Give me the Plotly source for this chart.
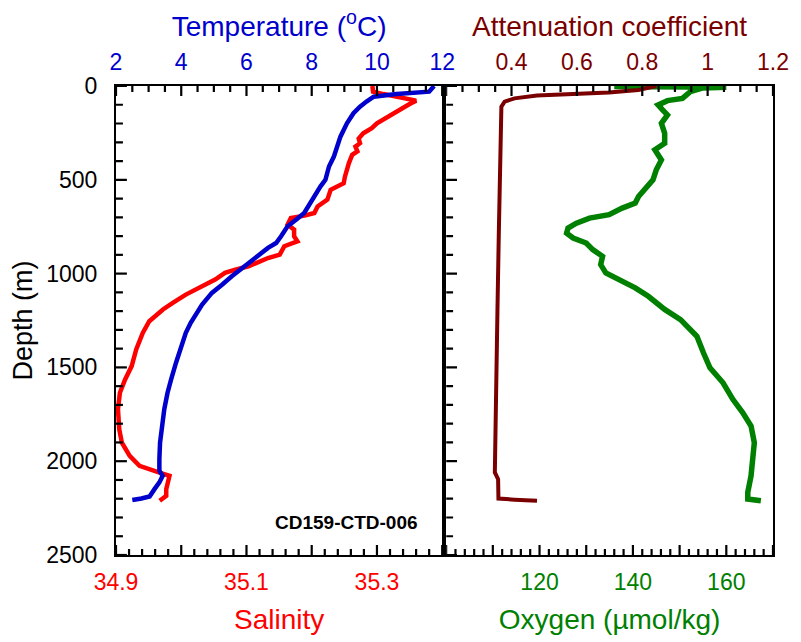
import plotly.graph_objects as go

# ---------------- data ----------------
temp_depth = [0, 30, 43, 57, 83, 110, 145, 199, 270, 323, 376, 429, 500, 535, 580, 624,
              677, 713, 748, 801, 837, 863, 917, 970, 1014, 1059, 1103, 1165, 1191, 1262,
              1316, 1387, 1475, 1564, 1635, 1723, 1812, 1901, 1989, 2051, 2078, 2113, 2149,
              2188, 2199, 2207]
temperature = [11.75, 11.6, 10.6, 9.9, 9.68, 9.48, 9.28, 9.08, 8.88, 8.78, 8.68, 8.53, 8.42,
               8.27, 8.12, 7.97, 7.77, 7.52, 7.26, 7.06, 6.91, 6.66, 6.26, 5.85, 5.55, 5.25,
               4.94, 4.64, 4.54, 4.29, 4.14, 3.99, 3.84, 3.69, 3.58, 3.48, 3.41, 3.35, 3.33,
               3.33, 3.43, 3.33, 3.18, 3.03, 2.78, 2.5]

sal_depth = [0, 30, 43, 57, 66, 78, 96, 137, 163, 199, 225, 252, 280, 305, 323, 349, 367,
             411, 482, 518, 553, 606, 642, 677, 691, 704, 739, 766, 801, 828, 854, 899, 917,
             961, 979, 996, 1032, 1076, 1112, 1156, 1191, 1254, 1316, 1404, 1493, 1564, 1635,
             1723, 1830, 1901, 1972, 2025, 2051, 2064, 2078, 2113, 2149, 2185, 2211]
salinity = [35.293, 35.294, 35.31, 35.33, 35.345, 35.36, 35.35, 35.33, 35.315, 35.30, 35.292,
            35.279, 35.272, 35.274, 35.267, 35.270, 35.262, 35.257, 35.251, 35.249, 35.229,
            35.224, 35.209, 35.204, 35.189, 35.168, 35.163, 35.173, 35.173, 35.178, 35.158,
            35.151, 35.133, 35.103, 35.083, 35.067, 35.052, 35.027, 35.007, 34.987, 34.972,
            34.951, 34.941, 34.931, 34.924, 34.914, 34.906, 34.903, 34.905, 34.909, 34.921,
            34.936, 34.956, 34.969, 34.982, 34.979, 34.977, 34.977, 34.967]

att_depth = [0, 21, 35, 43, 51, 66, 83, 110, 234, 500, 800, 1191, 1670, 2060, 2096, 2199,
             2205, 2211]
attenuation = [0.843, 0.788, 0.698, 0.578, 0.478, 0.409, 0.379, 0.369, 0.367, 0.364, 0.361,
               0.357, 0.351, 0.349, 0.359, 0.36, 0.409, 0.478]

oxy_depth = [0, 3, 6, 10, 30, 66, 78, 101, 128, 154, 199, 252, 305, 340, 394, 447, 500, 544,
             589, 624, 651, 686, 704, 731, 757, 784, 810, 837, 872, 908, 952, 996, 1032, 1076,
             1121, 1191, 1245, 1334, 1422, 1502, 1582, 1670, 1741, 1812, 1901, 1989, 2078,
             2166, 2202, 2211]
oxygen = [150, 136, 160, 155, 152.3, 150.6, 147.4, 145.4, 146.4, 147.4, 146.1, 146.8, 146.8,
          144.7, 146.1, 145.0, 144.3, 142.6, 141.2, 140.5, 137.7, 134.9, 130.7, 127.9, 126.1,
          125.8, 127.2, 130.0, 131.4, 133.5, 133.1, 134.2, 137.0, 140.5, 143.3, 146.8, 150.2,
          153.7, 155.1, 156.5, 159.3, 161.4, 163.5, 165.3, 166.0, 165.6, 165.3, 164.6, 164.6,
          167.4]

depth_ticks = [0, 500, 1000, 1500, 2000, 2500]
sal_ticks = [34.9, 35.1, 35.3]
temp_ticks = [2, 4, 6, 8, 10, 12]
oxy_ticks = [120, 140, 160]
att_ticks = [0.4, 0.6, 0.8, 1.0, 1.2]
att_labels = ["0.4", "0.6", "0.8", "1", "1.2"]

# ---------------- styling ----------------
FONT = "Liberation Sans, Arial, sans-serif"
BLUE = "#0000CC"
RED = "#FF0000"
MAROON = "#7A0000"
GREEN = "#008000"
TICKF = 23
TITLEF = 28

W, H = 801, 642
ML, MR, MT, MB = 116, 21, 86, 86
LEFT_DOM = [0, 0.4965]
RIGHT_DOM = [0.5025, 1]
SAL_RANGE, TEMP_RANGE = [34.9, 35.4], [2, 12]
OXY_RANGE, ATT_RANGE = [100, 170], [0.2, 1.2]
DEPTH_RANGE = [2500, 0]

fig = go.Figure()
fig.add_trace(go.Scatter(x=salinity, y=sal_depth, xaxis="x", yaxis="y", mode="lines",
                         line=dict(color=RED, width=4.5), showlegend=False))
fig.add_trace(go.Scatter(x=temperature, y=temp_depth, xaxis="x2", yaxis="y", mode="lines",
                         line=dict(color=BLUE, width=4.5), showlegend=False))
fig.add_trace(go.Scatter(x=oxygen, y=oxy_depth, xaxis="x3", yaxis="y2", mode="lines",
                         line=dict(color=GREEN, width=5.5), showlegend=False))
fig.add_trace(go.Scatter(x=attenuation, y=att_depth, xaxis="x4", yaxis="y2", mode="lines",
                         line=dict(color=MAROON, width=4), showlegend=False))

# ---- inward tick marks, as line traces in each axis' own data units ----
plot_w = W - ML - MR
plot_h = H - MT - MB
px_per_m = plot_h / abs(DEPTH_RANGE[0] - DEPTH_RANGE[1])
TICK_W = 2.2


def px_per_unit(dom, rng):
    return plot_w * (dom[1] - dom[0]) / (rng[1] - rng[0])


def x_tick_trace(xa, ya, start, stop, major, step, top):
    xs, ys = [], []
    n = int(round((stop - start) / step))
    for i in range(n + 1):
        v = round(start + i * step, 6)
        k = (v - start) / major
        ln = 10 if abs(k - round(k)) < 1e-6 else 6
        dy = ln / px_per_m
        xs += [v, v, None]
        ys += ([0, dy, None] if top else [2500, 2500 - dy, None])
    return go.Scatter(x=xs, y=ys, xaxis=xa, yaxis=ya, mode="lines",
                      line=dict(color="black", width=TICK_W), hoverinfo="skip",
                      showlegend=False)


def y_tick_trace(xa, ya, x_left, ppu_x):
    xs, ys = [], []
    for d in range(0, 2501, 100):
        ln = 11 if d % 500 == 0 else 7
        xs += [x_left, x_left + ln / ppu_x, None]
        ys += [d, d, None]
    return go.Scatter(x=xs, y=ys, xaxis=xa, yaxis=ya, mode="lines",
                      line=dict(color="black", width=TICK_W), hoverinfo="skip",
                      showlegend=False)


ppu_sal = px_per_unit(LEFT_DOM, SAL_RANGE)
ppu_oxy = px_per_unit(RIGHT_DOM, OXY_RANGE)

fig.add_trace(x_tick_trace("x", "y", 34.9, 35.4, 0.1, 0.02, False))
fig.add_trace(x_tick_trace("x2", "y", 2, 12, 2, 0.5, True))
fig.add_trace(x_tick_trace("x3", "y2", 100, 170, 10, 2, False))
fig.add_trace(x_tick_trace("x4", "y2", 0.2, 1.2, 0.2, 0.05, True))
fig.add_trace(y_tick_trace("x", "y", SAL_RANGE[0], ppu_sal))
fig.add_trace(y_tick_trace("x3", "y2", OXY_RANGE[0], ppu_oxy))

base = dict(showline=True, linecolor="black", linewidth=2, showgrid=False, zeroline=False,
            ticks="", tickmode="array")

fig.update_layout(
    width=W, height=H,
    margin=dict(l=ML, r=MR, t=MT, b=MB),
    paper_bgcolor="white", plot_bgcolor="white",
    font=dict(family=FONT),
    xaxis=dict(domain=LEFT_DOM, anchor="y", range=SAL_RANGE, side="bottom",
               tickvals=sal_ticks, ticktext=[f"{v:.1f}" for v in sal_ticks],
               tickfont=dict(size=TICKF, color=RED), ticklabelstandoff=5,
               title=dict(text="Salinity", font=dict(size=TITLEF, color=RED), standoff=16),
               **base),
    xaxis2=dict(overlaying="x", anchor="y", side="top", range=TEMP_RANGE,
                tickvals=temp_ticks, ticktext=[str(v) for v in temp_ticks],
                tickfont=dict(size=TICKF, color=BLUE), ticklabelstandoff=5,
                title=dict(text="Temperature (<sup>o</sup>C)",
                           font=dict(size=TITLEF, color=BLUE), standoff=4),
                **base),
    xaxis3=dict(domain=RIGHT_DOM, anchor="y2", range=OXY_RANGE, side="bottom",
                tickvals=oxy_ticks, ticktext=[str(v) for v in oxy_ticks],
                tickfont=dict(size=TICKF, color=GREEN), ticklabelstandoff=5,
                title=dict(text="Oxygen (µmol/kg)", font=dict(size=TITLEF, color=GREEN),
                           standoff=16),
                **base),
    xaxis4=dict(overlaying="x3", anchor="y2", side="top", range=ATT_RANGE,
                tickvals=att_ticks, ticktext=att_labels,
                tickfont=dict(size=TICKF, color=MAROON), ticklabelstandoff=5,
                title=dict(text="Attenuation coefficient",
                           font=dict(size=TITLEF, color=MAROON), standoff=4),
                **base),
    yaxis=dict(domain=[0, 1], anchor="x", range=DEPTH_RANGE, tickvals=depth_ticks,
               ticktext=[str(v) for v in depth_ticks],
               tickfont=dict(size=TICKF, color="black"), ticklabelstandoff=12,
               title=dict(text="Depth (m)", font=dict(size=TITLEF - 1, color="black"),
                          standoff=6),
               mirror=True, **base),
    yaxis2=dict(domain=[0, 1], anchor="x3", matches="y", range=DEPTH_RANGE,
                showticklabels=False, mirror=True, **base),
)

fig.add_annotation(x=35.254, y=2325, xref="x", yref="y", text="<b>CD159-CTD-006</b>",
                   showarrow=False, font=dict(size=19, color="black", family=FONT))

fig.write_html("out.html")
